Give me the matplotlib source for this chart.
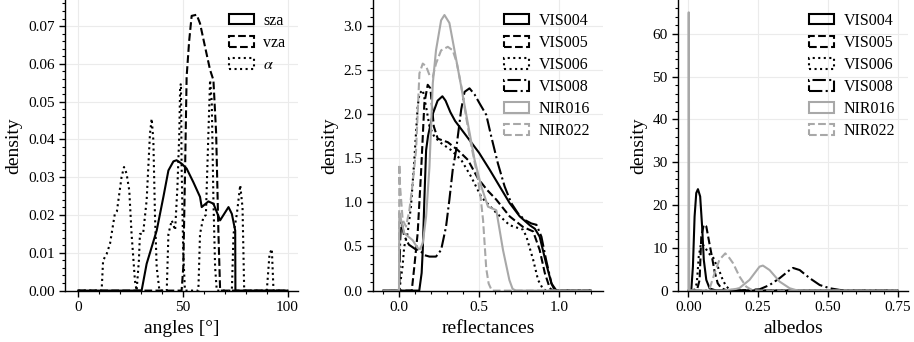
import matplotlib
matplotlib.use("Agg")
import matplotlib.pyplot as plt
from matplotlib.patches import Patch
from matplotlib.ticker import MultipleLocator

plt.rcParams['font.family'] = ['Liberation Serif', 'DejaVu Serif']
plt.rcParams['mathtext.fontset'] = 'stix'

# ---------------- Panel 1: angles ----------------
sza_x = [0, 30.3, 32.7, 37.5, 40.7, 43.1, 45.5, 47.0, 49.4, 51.8, 55.0, 58.2, 59.0, 62.2, 64.6, 67.8, 71.8, 73.4, 75.0, 75.1, 100]
sza_y = [0, 0, 0.0071, 0.0159, 0.0248, 0.0318, 0.0342, 0.0345, 0.0336, 0.0323, 0.0287, 0.0248, 0.0221, 0.0236, 0.0230, 0.0186, 0.0221, 0.0203, 0.0159, 0, 0]

vza_x = [0, 49.4, 50.2, 51.0, 51.8, 53.0, 54.2, 56.6, 58.2, 60.6, 63.0, 64.6, 65.9, 67.0, 67.8, 100]
vza_y = [0, 0, 0.0062, 0.030, 0.0566, 0.066, 0.0727, 0.0730, 0.0707, 0.0645, 0.0584, 0.0557, 0.0416, 0.0150, 0, 0]

alpha_x = [0, 11.2, 11.9, 13.6, 15.2, 17.5, 18.5, 20.7, 21.9, 23.1, 24.4, 25.5, 27.1, 27.9,
           29.0, 29.5, 31.0, 32.7, 34.3, 35.1, 35.9, 36.7, 37.5, 38.8,
           42.3, 43.1, 44.7, 46.3, 47.4, 48.3, 48.7, 49.1, 49.4, 50.2, 51.0,
           57.4, 58.2, 59.8, 61.0, 62.2, 63.0, 63.8, 64.6, 65.4, 66.2,
           73.4, 74.2, 75.8, 77.4, 78.5, 79.3,
           90.1, 91.4, 92.5, 93.3, 100]
alpha_y = [0, 0, 0.0080, 0.0097, 0.0124, 0.0203, 0.0210, 0.0300, 0.0327, 0.0310, 0.0265, 0.0150, 0.0027, 0,
           0.0080, 0.0150, 0.0150, 0.0239, 0.0416, 0.0455, 0.0398, 0.0195, 0.0062, 0,
           0, 0.0150, 0.0186, 0.0160, 0.0274, 0.0416, 0.0540, 0.0548, 0.0327, 0.0097, 0,
           0, 0.0150, 0.0195, 0.0200, 0.0416, 0.0557, 0.0500, 0.0239, 0.0062, 0,
           0, 0.0150, 0.0203, 0.0279, 0.0220, 0,
           0, 0.0097, 0.0110, 0, 0]

angle_labels = ['sza', 'vza', r'$\alpha$']

# ---------------- Panel 2: reflectances ----------------
r_vis004_x = [-0.1, 0.125, 0.14, 0.147, 0.157, 0.168, 0.18, 0.21, 0.24, 0.27, 0.29, 0.32, 0.35, 0.40, 0.45, 0.50, 0.566, 0.629, 0.692, 0.755, 0.818, 0.85, 0.88, 0.92, 0.954, 0.985, 1.2]
r_vis004_y = [0, 0, 0.2, 0.46, 1.03, 1.59, 1.75, 2.0, 2.15, 2.2, 2.15, 2.02, 1.92, 1.8, 1.68, 1.56, 1.37, 1.18, 0.99, 0.84, 0.74, 0.70, 0.61, 0.31, 0.08, 0, 0]

r_vis005_x = [-0.1, 0.078, 0.094, 0.115, 0.136, 0.157, 0.178, 0.195, 0.216, 0.241, 0.304, 0.367, 0.43, 0.493, 0.55, 0.608, 0.692, 0.776, 0.839, 0.88, 0.912, 0.943, 0.96, 1.2]
r_vis005_y = [0, 0, 0.27, 0.65, 1.33, 2.12, 2.33, 2.29, 1.86, 1.72, 1.68, 1.59, 1.48, 1.27, 1.14, 1.03, 0.84, 0.72, 0.67, 0.46, 0.2, 0.03, 0, 0]

r_vis006_x = [-0.1, 0.0, 0.02, 0.031, 0.052, 0.073, 0.094, 0.115, 0.126, 0.147, 0.168, 0.189, 0.22, 0.262, 0.325, 0.388, 0.45, 0.514, 0.608, 0.692, 0.776, 0.797, 0.839, 0.87, 0.9, 0.92, 1.2]
r_vis006_y = [0, 0, 0.27, 0.5, 0.65, 0.95, 1.48, 2.08, 2.23, 2.27, 2.08, 1.86, 1.74, 1.67, 1.59, 1.48, 1.29, 1.06, 0.88, 0.74, 0.69, 0.61, 0.35, 0.12, 0.02, 0, 0]

r_vis008_x = [-0.1, 0.0, 0.005, 0.012, 0.03, 0.06, 0.1, 0.126, 0.16, 0.189, 0.23, 0.262, 0.293, 0.314, 0.335, 0.356, 0.367, 0.388, 0.409, 0.44, 0.472, 0.503, 0.545, 0.577, 0.618, 0.66, 0.702, 0.744, 0.786, 0.828, 0.86, 0.891, 0.92, 0.954, 0.975, 1.2]
r_vis008_y = [0, 0, 0.55, 0.8, 0.62, 0.52, 0.47, 0.46, 0.40, 0.385, 0.385, 0.46, 0.725, 1.03, 1.37, 1.59, 1.75, 2.05, 2.25, 2.29, 2.22, 2.12, 1.99, 1.74, 1.44, 1.18, 0.99, 0.875, 0.80, 0.76, 0.745, 0.61, 0.35, 0.08, 0, 0]

r_nir016_x = [-0.1, -0.002, 0.0, 0.005, 0.031, 0.084, 0.115, 0.13, 0.147, 0.168, 0.189, 0.21, 0.23, 0.262, 0.283, 0.314, 0.346, 0.388, 0.43, 0.472, 0.514, 0.556, 0.608, 0.65, 0.69, 0.71, 0.73, 1.2]
r_nir016_y = [0, 0, 0.88, 0.85, 0.65, 0.57, 0.48, 0.47, 0.54, 0.84, 1.40, 2.35, 2.72, 3.06, 3.12, 3.03, 2.72, 2.31, 1.89, 1.48, 1.18, 0.95, 0.91, 0.46, 0.12, 0.02, 0, 0]

r_nir022_x = [-0.1, -0.002, 0.0, 0.004, 0.021, 0.042, 0.063, 0.084, 0.105, 0.126, 0.147, 0.168, 0.189, 0.21, 0.23, 0.262, 0.304, 0.335, 0.36, 0.39, 0.42, 0.45, 0.49, 0.51, 0.525, 0.545, 0.56, 0.58, 1.2]
r_nir022_y = [0, 0, 1.43, 1.2, 0.8, 0.725, 0.91, 1.22, 1.59, 2.46, 2.57, 2.54, 2.44, 2.42, 2.57, 2.72, 2.76, 2.72, 2.58, 2.3, 1.95, 1.65, 1.3, 1.05, 0.8, 0.25, 0.08, 0, 0]

# ---------------- Panel 3: albedos ----------------
a_vis004_x = [0.0, 0.01, 0.016, 0.022, 0.028, 0.034, 0.042, 0.049, 0.055, 0.064, 0.076, 0.1, 0.75]
a_vis004_y = [0, 0, 5.6, 17.3, 22.8, 23.7, 22.0, 15.0, 7.2, 2.5, 0.5, 0, 0]

a_vis005_x = [0.0, 0.03, 0.04, 0.046, 0.055, 0.064, 0.075, 0.082, 0.094, 0.105, 0.118, 0.135, 0.15, 0.75]
a_vis005_y = [0, 0, 2.5, 12.6, 15.4, 15.0, 11.1, 8.7, 4.4, 1.7, 0.55, 0.1, 0, 0]

a_vis006_x = [0.0, 0.02, 0.03, 0.037, 0.045, 0.055, 0.065, 0.076, 0.087, 0.1, 0.105, 0.123, 0.136, 0.15, 0.17, 0.75]
a_vis006_y = [0, 0, 1.7, 8.0, 11.0, 10.5, 9.5, 8.5, 8.0, 6.0, 5.6, 2.5, 0.94, 0.2, 0, 0]

a_vis008_x = [0.0, 0.18, 0.2, 0.255, 0.291, 0.327, 0.363, 0.375, 0.399, 0.435, 0.471, 0.507, 0.543, 0.58, 0.75]
a_vis008_y = [0, 0, 0.1, 0.3, 1.3, 2.9, 4.8, 5.3, 4.8, 2.9, 1.3, 0.55, 0.15, 0, 0]

a_nir016_x = [0.0, 0.0005, 0.0015, 0.0025, 0.004, 0.124, 0.171, 0.183, 0.219, 0.255, 0.267, 0.291, 0.327, 0.363, 0.387, 0.41, 0.75]
a_nir016_y = [0, 65.0, 65.0, 0.5, 0, 0, 0.4, 0.6, 2.5, 5.6, 5.85, 4.8, 2.1, 0.55, 0.1, 0, 0]

a_nir022_x = [0.0, 0.064, 0.075, 0.082, 0.094, 0.111, 0.132, 0.147, 0.16, 0.183, 0.207, 0.225, 0.243, 0.26, 0.75]
a_nir022_y = [0, 0, 0.3, 1.7, 4.1, 7.2, 8.7, 7.6, 6.4, 3.3, 0.94, 0.2, 0.05, 0, 0]

band_labels = ['VIS004', 'VIS005', 'VIS006', 'VIS008', 'NIR016', 'NIR022']

BLACK = 'black'
GRAY = '#a8a8a8'
band_styles = [(BLACK, '-'), (BLACK, '--'), (BLACK, ':'), (BLACK, '-.'), (GRAY, '-'), (GRAY, '--')]
angle_styles = [(BLACK, '-'), (BLACK, '--'), (BLACK, ':')]

LW = 1.5
W, H = 914, 342
fig = plt.figure(figsize=(W / 100, H / 100), dpi=100)

bottom = (H - 290.6) / H
height = 1.0 - bottom
ax1 = fig.add_axes([65 / W, bottom, 233 / W, height])
ax2 = fig.add_axes([373 / W, bottom, 230 / W, height])
ax3 = fig.add_axes([678 / W, bottom, 230 / W, height])


def style_axes(ax):
    for s in ['top', 'right']:
        ax.spines[s].set_visible(False)
    for s in ['left', 'bottom']:
        ax.spines[s].set_linewidth(1.0)
    ax.grid(True, which='major', color='#ebebeb', linewidth=0.8)
    ax.set_axisbelow(True)
    ax.tick_params(which='major', direction='out', length=4, width=1.0, labelsize=11)
    ax.tick_params(which='minor', direction='out', length=2, width=0.8)
    ax.set_ylabel('density', fontsize=14)


def legend(ax, labels, styles):
    handles = [Patch(facecolor='none', edgecolor=c, linestyle=ls, linewidth=LW) for c, ls in styles]
    ax.legend(handles, labels, loc='upper right', frameon=False, fontsize=11.5,
              handlelength=1.55, handleheight=0.65, handletextpad=0.6,
              labelspacing=0.38, borderaxespad=0.4, borderpad=0.4)


# Panel 1
for (xs, ys), (c, ls) in zip([(sza_x, sza_y), (vza_x, vza_y), (alpha_x, alpha_y)], angle_styles):
    ax1.plot(xs, ys, color=c, linestyle=ls, linewidth=LW)
style_axes(ax1)
ax1.set_xlim(-6.3, 105)
ax1.set_ylim(0, 0.0769)
ax1.xaxis.set_major_locator(MultipleLocator(50))
ax1.xaxis.set_minor_locator(MultipleLocator(10))
ax1.yaxis.set_major_locator(MultipleLocator(0.01))
ax1.yaxis.set_minor_locator(MultipleLocator(0.002))
ax1.yaxis.set_major_formatter(matplotlib.ticker.FormatStrFormatter('%.2f'))
ax1.set_xlabel('angles [°]', fontsize=14)
legend(ax1, angle_labels, angle_styles)

# Panel 2
refl = [(r_vis004_x, r_vis004_y), (r_vis005_x, r_vis005_y), (r_vis006_x, r_vis006_y),
        (r_vis008_x, r_vis008_y), (r_nir016_x, r_nir016_y), (r_nir022_x, r_nir022_y)]
for (xs, ys), (c, ls) in zip(refl, band_styles):
    ax2.plot(xs, ys, color=c, linestyle=ls, linewidth=LW)
style_axes(ax2)
ax2.set_xlim(-0.165, 1.277)
ax2.set_ylim(0, 3.29)
ax2.xaxis.set_major_locator(MultipleLocator(0.5))
ax2.xaxis.set_minor_locator(MultipleLocator(0.1))
ax2.yaxis.set_major_locator(MultipleLocator(0.5))
ax2.yaxis.set_minor_locator(MultipleLocator(0.1))
ax2.set_xlabel('reflectances', fontsize=14)
legend(ax2, band_labels, band_styles)

# Panel 3
alb = [(a_vis004_x, a_vis004_y), (a_vis005_x, a_vis005_y), (a_vis006_x, a_vis006_y),
       (a_vis008_x, a_vis008_y), (a_nir016_x, a_nir016_y), (a_nir022_x, a_nir022_y)]
for (xs, ys), (c, ls) in zip(alb, band_styles):
    ax3.plot(xs, ys, color=c, linestyle=ls, linewidth=LW)
style_axes(ax3)
ax3.set_xlim(-0.0375, 0.7875)
ax3.set_ylim(0, 67.9)
ax3.xaxis.set_major_locator(MultipleLocator(0.25))
ax3.xaxis.set_minor_locator(MultipleLocator(0.05))
ax3.yaxis.set_major_locator(MultipleLocator(10))
ax3.yaxis.set_minor_locator(MultipleLocator(2))
ax3.xaxis.set_major_formatter(matplotlib.ticker.FormatStrFormatter('%.2f'))
ax3.set_xlabel('albedos', fontsize=14)
legend(ax3, band_labels, band_styles)

fig.savefig('out.png', dpi=100)
